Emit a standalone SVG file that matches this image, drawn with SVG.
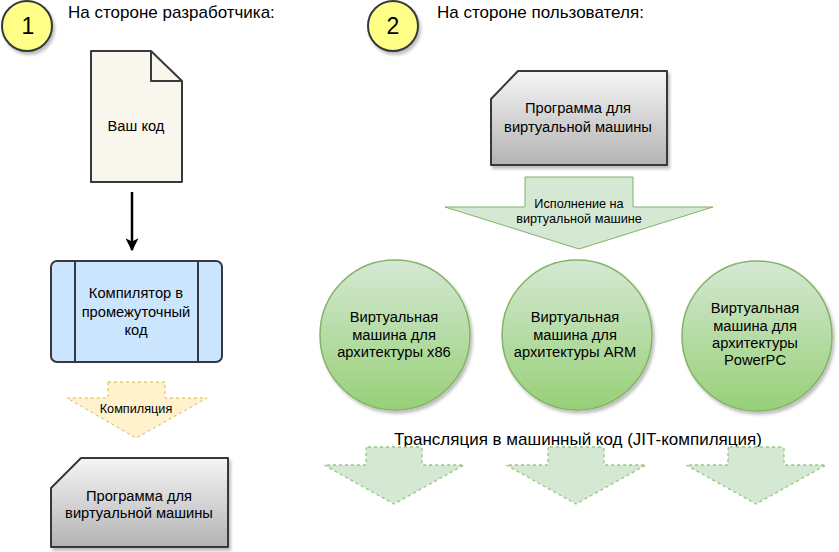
<svg xmlns="http://www.w3.org/2000/svg" width="839" height="552" viewBox="0 0 839 552">
<defs>
<style>
text{font-family:"Liberation Sans",Arial,sans-serif;fill:#000;}
.hd{font-size:17px;}
.num{font-size:23px;text-anchor:middle;}
.lbl{font-size:14.7px;text-anchor:middle;}
.sm{font-size:12.7px;text-anchor:middle;}
.sk{stroke:#36393d;stroke-width:2;stroke-linejoin:round;}
.badge{fill:#ffff88;stroke:#36393d;stroke-width:2;}
.gray{fill:url(#gGray);stroke:#36393d;stroke-width:2;stroke-linejoin:round;}
.vm{fill:url(#gGreen);stroke:#82b366;stroke-width:1.5;}
.dashy{fill:#fff2cc;stroke:#d6b656;stroke-width:1;stroke-dasharray:3 3;}
.dashg{fill:#d5e8d4;stroke:#97c77f;stroke-width:1.3;stroke-dasharray:3 3;}
.solg{fill:#d5e8d4;stroke:#82b366;stroke-width:1;}
</style>
<linearGradient id="gGray" x1="0" y1="0" x2="0" y2="1">
<stop offset="0" stop-color="#f5f5f5"/>
<stop offset="1" stop-color="#b3b3b3"/>
</linearGradient>
<linearGradient id="gGreen" x1="0" y1="0" x2="0" y2="1">
<stop offset="0" stop-color="#d5e8d4"/>
<stop offset="1" stop-color="#97d077"/>
</linearGradient>
<filter id="sh" x="-20%" y="-20%" width="140%" height="140%">
<feDropShadow dx="2" dy="3" stdDeviation="1.5" flood-color="#000" flood-opacity="0.25"/>
</filter>
<marker id="arr" viewBox="0 0 10 10" refX="9" refY="5" markerWidth="13" markerHeight="13" markerUnits="userSpaceOnUse" orient="auto">
<path d="M0,0 L10,5 L0,10 L2.5,5 Z" fill="#000"/>
</marker>
</defs>
<rect width="839" height="552" fill="#fff"/>

<g id="badge1">
<circle class="badge" cx="27" cy="26" r="25" filter="url(#sh)"/>
<text class="num" x="28" y="34">1</text>
</g>
<g id="title1"><text class="hd" x="68" y="18">На стороне разработчика:</text></g>

<g id="badge2">
<circle class="badge" cx="393" cy="26" r="25" filter="url(#sh)"/>
<text class="num" x="393" y="34">2</text>
</g>
<g id="title2"><text class="hd" x="437" y="18">На стороне пользователя:</text></g>

<g id="doc">
<path class="sk" d="M91,51 L151,51 L182,81 L182,182 L91,182 Z" fill="#f9f7ed"/>
<path class="sk" d="M151,51 L151,81 L182,81" fill="none"/>
<text class="lbl" x="136" y="131">Ваш код</text>
</g>

<g id="compiler">
<rect class="sk" x="51" y="261" width="171" height="101" rx="6" fill="#cce5ff"/>
<line class="sk" x1="75" y1="261" x2="75" y2="362"/>
<line class="sk" x1="198" y1="261" x2="198" y2="362"/>
<text class="lbl" x="136" y="298">Компилятор в</text>
<text class="lbl" x="136" y="316.5">промежуточный</text>
<text class="lbl" x="136" y="335">код</text>
</g>

<g id="compilation">
<path class="dashy" d="M108,382 L165,382 L165,398 L207,398 L136,438 L67,398 L108,398 Z"/>
<text class="sm" x="136" y="413">Компиляция</text>
</g>

<g id="program1">
<path class="gray" d="M81,458 L228,458 L228,547 L51,547 L51,488 Z" filter="url(#sh)"/>
<text class="lbl" x="139" y="501">Программа для</text>
<text class="lbl" x="139" y="518">виртуальной машины</text>
</g>

<g id="program2">
<path class="gray" d="M518,71 L667,71 L667,165 L491,165 L491,99 Z" filter="url(#sh)"/>
<text class="lbl" x="578" y="113">Программа для</text>
<text class="lbl" x="578" y="132">виртуальной машины</text>
</g>

<g id="execution">
<path class="solg" d="M525,177 L633,177 L633,207 L713,207 L579,249 L445,207 L525,207 Z"/>
<text class="sm" x="579" y="207.5">Исполнение на</text>
<text class="sm" x="579" y="223">виртуальной машине</text>
</g>

<g id="vm-x86">
<circle class="vm" cx="395" cy="335" r="75" filter="url(#sh)"/>
<text class="lbl" x="394" y="322">Виртуальная</text>
<text class="lbl" x="394" y="339.5">машина для</text>
<text class="lbl" x="394" y="357">архитектуры x86</text>
</g>

<g id="vm-arm">
<circle class="vm" cx="577" cy="335" r="75" filter="url(#sh)"/>
<text class="lbl" x="575" y="322">Виртуальная</text>
<text class="lbl" x="575" y="339.5">машина для</text>
<text class="lbl" x="575" y="357">архитектуры ARM</text>
</g>

<g id="vm-ppc">
<circle class="vm" cx="757" cy="336" r="75" filter="url(#sh)"/>
<text class="lbl" x="755" y="313">Виртуальная</text>
<text class="lbl" x="755" y="331">машина для</text>
<text class="lbl" x="755" y="348">архитектуры</text>
<text class="lbl" x="755" y="365">PowerPC</text>
</g>

<g id="jit-title"><text class="hd" x="578" y="445" text-anchor="middle">Трансляция в машинный код (JIT-компиляция)</text></g>

<g id="jit1"><path class="dashg" d="M368,447 L420,447 Q422,447 422,449 L422,465 L464,465 L394,504 L324,465 L366,465 L366,449 Q366,447 368,447 Z"/></g>
<g id="jit2"><path class="dashg" d="M550,447 L602,447 Q604,447 604,449 L604,465 L646,465 L576,504 L506,465 L548,465 L548,449 Q548,447 550,447 Z"/></g>
<g id="jit3"><path class="dashg" d="M730,447 L782,447 Q784,447 784,449 L784,465 L826,465 L756,504 L686,465 L728,465 L728,449 Q728,447 730,447 Z"/></g>

<g id="connectors">
<line x1="132" y1="192" x2="132" y2="250" stroke="#000" stroke-width="2.5" marker-end="url(#arr)"/>
</g>
</svg>
